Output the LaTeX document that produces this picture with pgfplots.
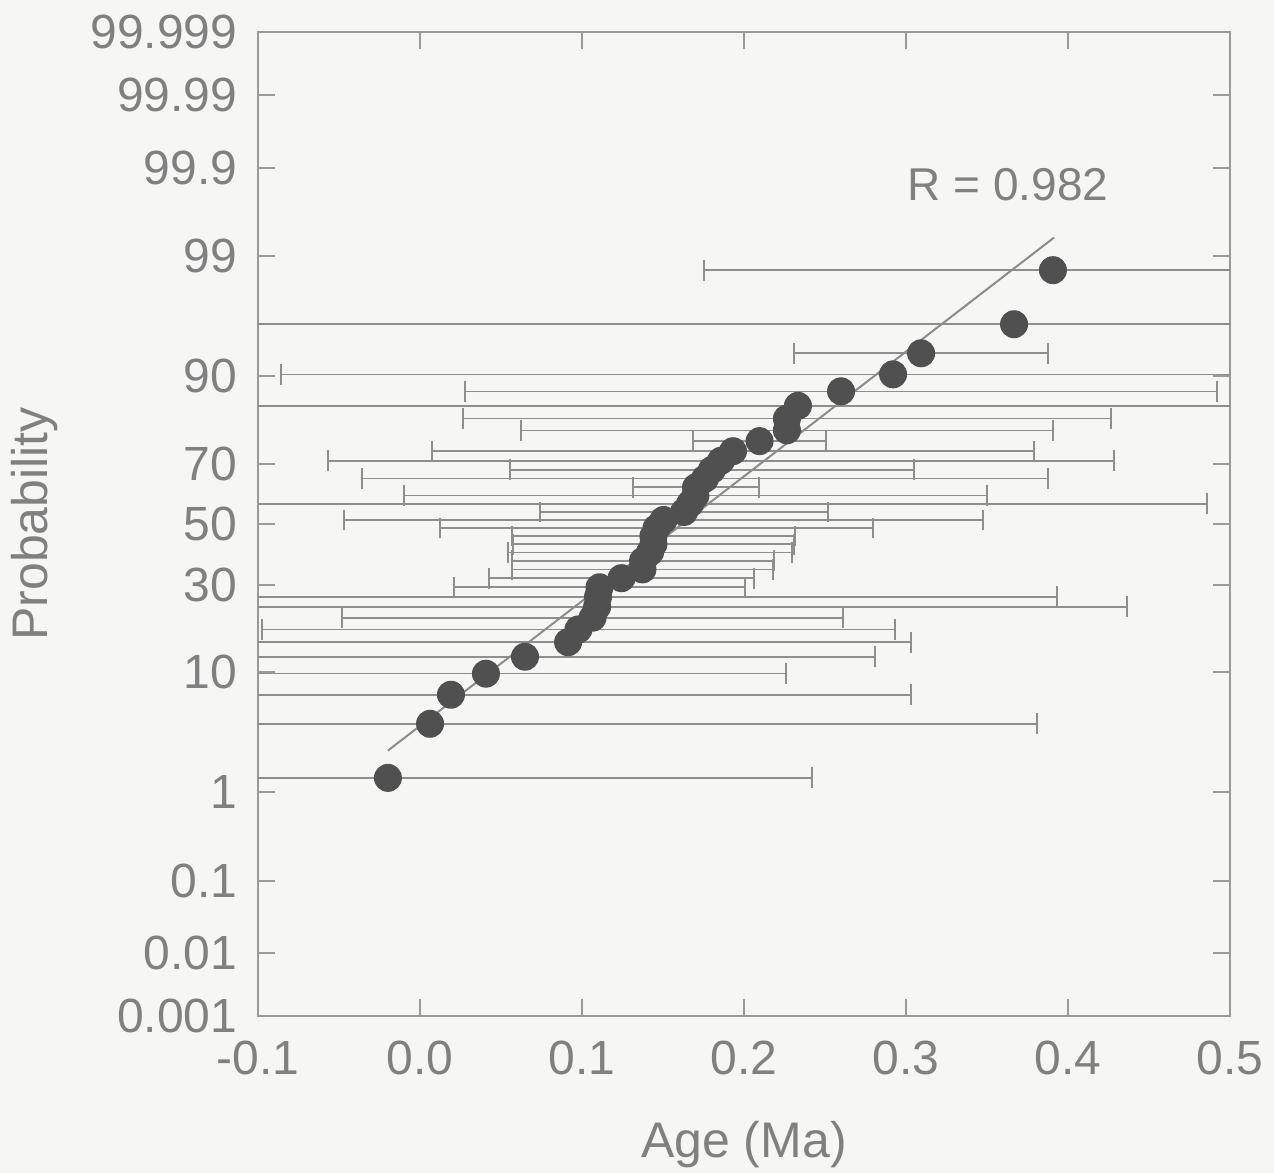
\documentclass[border=0pt]{standalone}
\usepackage{fontspec}
\setmainfont{Liberation Sans}
\usepackage{pgfplots}
\usepackage{pgfplotstable}
\pgfplotsset{compat=1.18}
\pgfdeclarelayer{background}
\pgfsetlayers{background,main}
\definecolor{txt}{HTML}{808080}
\definecolor{frame}{HTML}{9A9A9A}
\definecolor{barc}{HTML}{8E8E8E}
\definecolor{ptc}{HTML}{505050}
\definecolor{linec}{HTML}{8C8C8C}
\definecolor{bgc}{HTML}{F6F6F4}

\pgfplotstableread{
x z e
-0.0198 -2.2004 0.2617
0.0062 -1.7317 0.3747
0.0191 -1.4799 0.2840
0.0407 -1.2974 0.1852
0.0648 -1.1503 0.2160
0.0914 -1.0246 0.2117
0.0978 -0.9136 0.1954
0.1065 -0.8122 0.1546
0.1093 -0.7184 0.3272
0.1099 -0.6311 0.2833
0.1108 -0.5485 0.0898
0.1244 -0.4693 0.0818
0.1373 -0.3931 0.0806
0.1377 -0.3186 0.0809
0.1420 -0.2456 0.0877
0.1441 -0.1749 0.0867
0.1441 -0.1046 0.0873
0.1460 -0.0348 0.1336
0.1503 0.0348 0.1972
0.1630 0.1046 0.0889
0.1667 0.1749 0.3191
0.1700 0.2456 0.1799
0.1704 0.3186 0.0389
0.1759 0.3931 0.2117
0.1802 0.4693 0.1247
0.1858 0.5485 0.2426
0.1932 0.6311 0.1858
0.2096 0.7184 0.0410
0.2265 0.8122 0.1642
0.2265 0.9136 0.2000
0.2333 1.0246 0.3600
0.2599 1.1503 0.2321
0.2920 1.2974 0.3778
0.3093 1.4799 0.0784
0.3667 1.7317 0.5000
0.3907 2.2004 0.2154
}\agedata

\begin{document}
\begin{tikzpicture}
\begin{axis}[
  scale only axis, width=243pt, height=246pt,
  xmin=-0.1, xmax=0.5, ymin=-4.2649, ymax=4.2649,
  xtick={-0.1,0,0.1,0.2,0.3,0.4,0.5},
  xticklabels={-0.1,0.0,0.1,0.2,0.3,0.4,0.5},
  ytick={-4.2649,-3.7190,-3.0902,-2.3263,-1.2816,-0.5244,0,0.5244,1.2816,2.3263,3.0902,3.7190,4.2649},
  yticklabels={0.001,0.01,0.1,1,10,30,50,70,90,99,99.9,99.99,99.999},
  tick align=inside, major tick length=4.25pt,
  axis line style={draw=frame, line width=0.5pt},
  every tick/.style={draw=frame, line width=0.5pt},
  tick label style={text=txt, font=\fontsize{12}{14}\selectfont},
  yticklabel style={inner xsep=0pt, xshift=-5pt},
  xticklabel style={inner ysep=0pt, yshift=-6pt},
  xlabel={Age (Ma)}, ylabel={Probability},
  label style={text=txt, font=\fontsize{12.5}{14}\selectfont},
  xlabel style={at={(axis description cs:0.5,-0.1311)}, anchor=center},
  ylabel style={at={(axis description cs:-0.2294,0.5)}, anchor=center},
]
\addplot[only marks, mark=none, forget plot,
  error bars/.cd, x dir=both, x explicit,
  error bar style={draw=barc, line width=0.4pt},
  error mark options={draw=barc, line width=0.4pt, mark size=2.6pt, rotate=90}]
  table[x=x, y=z, x error=e]{\agedata};
\addplot[draw=linec, line width=0.5pt, forget plot] coordinates {(-0.0198,-1.964) (0.3914,2.483)};
\addplot[only marks, mark=*, mark size=3.3pt, mark options={fill=ptc, draw=ptc}] table[x=x, y=z]{\agedata};
\node[text=txt, font=\fontsize{11.5}{14}\selectfont] at (axis cs:0.363,2.94) {R = 0.982};
\end{axis}
\pgfresetboundingbox
\path[use as bounding box] ([shift={(-64.5pt,-39.25pt)}]current axis.south west) rectangle ([shift={(11pt,8pt)}]current axis.north east);
\begin{pgfonlayer}{background}
\fill[bgc] ([shift={(-64.5pt,-39.25pt)}]current axis.south west) rectangle ([shift={(11pt,8pt)}]current axis.north east);
\end{pgfonlayer}
\end{tikzpicture}
\end{document}
